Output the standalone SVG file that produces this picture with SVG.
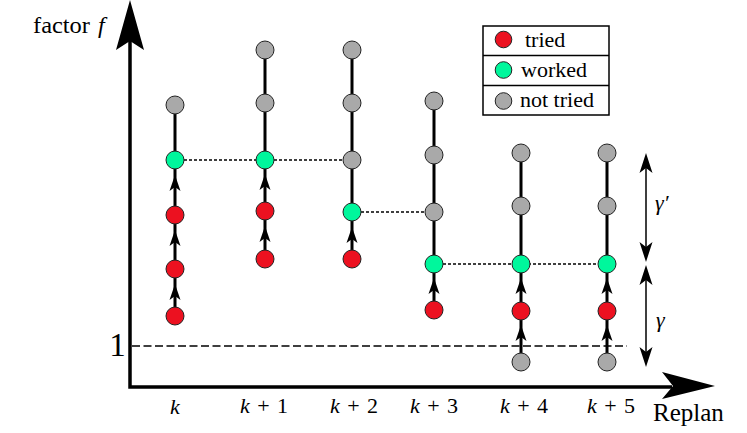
<svg xmlns="http://www.w3.org/2000/svg" xmlns:xlink="http://www.w3.org/1999/xlink" width="747" height="433" viewBox="0 0 747 433">
<style>
text{font-family:"Liberation Serif",serif;fill:#000}
.i{font-style:italic}
.red{fill:#ec1120;stroke:#222;stroke-width:1}
.grn{fill:#00f79c;stroke:#222;stroke-width:1}
.gry{fill:#a9a9a9;stroke:#222;stroke-width:1}
.col{stroke:#000;stroke-width:3;fill:none}
.dot{stroke:#000;stroke-width:1.3;stroke-dasharray:3 2;fill:none}
.dash{stroke:#000;stroke-width:1.3;stroke-dasharray:8 3.5;fill:none}
.axis{stroke:#000;stroke-width:3.5;fill:none}
.gl{stroke:#000;stroke-width:1.5;fill:none}
</style>
<defs>
<path id="ah" d="M0,0 L5.5,16 L0,12 L-5.5,16 Z" fill="#000"/>
<path id="gh" d="M0,0 L6.5,20 L0,15 L-6.5,20 Z" fill="#000"/>
</defs>
<rect width="747" height="433" fill="#fff"/>

<g id="axes">
<path class="axis" d="M130,40 V387 H672"/>
<path d="M130,0 L144,50 L130,41 L116,50 Z" fill="#000"/>
<path d="M715,386 L662,372 L673,386 L662,399 Z" fill="#000"/>
</g>

<g id="connectors">
<path class="dash" d="M132,346 H627"/>
<path class="col" d="M175,105 V316 M265,50 V259 M352,50 V259 M434,101 V310 M521,153 V362 M607,153 V362"/>
<path class="dot" d="M184,160 H343 M361,212 H425 M443,264 H598"/>
<use xlink:href="#ah" x="175" y="175"/>
<use xlink:href="#ah" x="175" y="230"/>
<use xlink:href="#ah" x="175" y="284"/>
<use xlink:href="#ah" x="265" y="174"/>
<use xlink:href="#ah" x="265" y="226"/>
<use xlink:href="#ah" x="352" y="227"/>
<use xlink:href="#ah" x="434" y="278"/>
<use xlink:href="#ah" x="521" y="278"/>
<use xlink:href="#ah" x="521" y="325"/>
<use xlink:href="#ah" x="607" y="278"/>
<use xlink:href="#ah" x="607" y="325"/>
<g id="gamma-arrows">
<path class="gl" d="M646,165 V250 M646,277 V355"/>
<use xlink:href="#gh" x="646" y="153"/>
<use xlink:href="#gh" transform="translate(646,262) rotate(180)"/>
<use xlink:href="#gh" x="646" y="265"/>
<use xlink:href="#gh" transform="translate(646,367) rotate(180)"/>
</g>
</g>

<g id="nodes">
<g id="k-1"><circle class="gry" cx="175" cy="105" r="9"/></g>
<g id="k-2"><circle class="grn" cx="175" cy="160" r="9"/></g>
<g id="k-3"><circle class="red" cx="175" cy="215" r="9"/></g>
<g id="k-4"><circle class="red" cx="175" cy="269" r="9"/></g>
<g id="k-5"><circle class="red" cx="175" cy="316" r="9"/></g>

<g id="k1-1"><circle class="gry" cx="265" cy="50" r="9"/></g>
<g id="k1-2"><circle class="gry" cx="265" cy="103" r="9"/></g>
<g id="k1-3"><circle class="grn" cx="265" cy="160" r="9"/></g>
<g id="k1-4"><circle class="red" cx="265" cy="211" r="9"/></g>
<g id="k1-5"><circle class="red" cx="265" cy="259" r="9"/></g>

<g id="k2-1"><circle class="gry" cx="352" cy="50" r="9"/></g>
<g id="k2-2"><circle class="gry" cx="352" cy="103" r="9"/></g>
<g id="k2-3"><circle class="gry" cx="352" cy="160" r="9"/></g>
<g id="k2-4"><circle class="grn" cx="352" cy="212" r="9"/></g>
<g id="k2-5"><circle class="red" cx="352" cy="259" r="9"/></g>

<g id="k3-1"><circle class="gry" cx="434" cy="101" r="9"/></g>
<g id="k3-2"><circle class="gry" cx="434" cy="155" r="9"/></g>
<g id="k3-3"><circle class="gry" cx="434" cy="212" r="9"/></g>
<g id="k3-4"><circle class="grn" cx="434" cy="264" r="9"/></g>
<g id="k3-5"><circle class="red" cx="434" cy="310" r="9"/></g>

<g id="k4-1"><circle class="gry" cx="521" cy="153" r="9"/></g>
<g id="k4-2"><circle class="gry" cx="521" cy="206" r="9"/></g>
<g id="k4-3"><circle class="grn" cx="521" cy="264" r="9"/></g>
<g id="k4-4"><circle class="red" cx="521" cy="311" r="9"/></g>
<g id="k4-5"><circle class="gry" cx="521" cy="362" r="9"/></g>

<g id="k5-1"><circle class="gry" cx="607" cy="153" r="9"/></g>
<g id="k5-2"><circle class="gry" cx="607" cy="206" r="9"/></g>
<g id="k5-3"><circle class="grn" cx="607" cy="264" r="9"/></g>
<g id="k5-4"><circle class="red" cx="607" cy="311" r="9"/></g>
<g id="k5-5"><circle class="gry" cx="607" cy="362" r="9"/></g>
</g>

<g id="legend">
<rect x="483" y="26" width="126" height="89" fill="#fff" stroke="#000" stroke-width="1.5"/>
<path d="M483,55.5 H609 M483,85.5 H609" stroke="#000" stroke-width="1.5"/>
<circle class="red" cx="503.5" cy="39.5" r="8.3"/>
<circle class="grn" cx="503.5" cy="70" r="8.3"/>
<circle class="gry" cx="503.5" cy="101" r="8.3"/>
<text x="525" y="47" font-size="22">tried</text>
<text x="521" y="77" font-size="22">worked</text>
<text x="520" y="107" font-size="22">not tried</text>
</g>

<g id="labels">
<text x="33" y="33" font-size="23" textLength="57" lengthAdjust="spacingAndGlyphs">factor</text>
<text class="i" x="98" y="33" font-size="24">f</text>
<text x="117.5" y="356" font-size="33" text-anchor="middle">1</text>
<text x="653" y="421" font-size="25">Replan</text>
<text class="i" x="175" y="414" font-size="22" text-anchor="middle">k</text>
<text x="240" y="413" font-size="22" textLength="48" lengthAdjust="spacing"><tspan class="i">k</tspan> + 1</text>
<text x="330" y="413" font-size="22" textLength="48" lengthAdjust="spacing"><tspan class="i">k</tspan> + 2</text>
<text x="410" y="413" font-size="22" textLength="48" lengthAdjust="spacing"><tspan class="i">k</tspan> + 3</text>
<text x="500" y="413" font-size="22" textLength="48" lengthAdjust="spacing"><tspan class="i">k</tspan> + 4</text>
<text x="587" y="413" font-size="22" textLength="48" lengthAdjust="spacing"><tspan class="i">k</tspan> + 5</text>
<text class="i" x="655" y="210" font-size="22">γ′</text>
<text class="i" x="656" y="327" font-size="22">γ</text>
</g>
</svg>
